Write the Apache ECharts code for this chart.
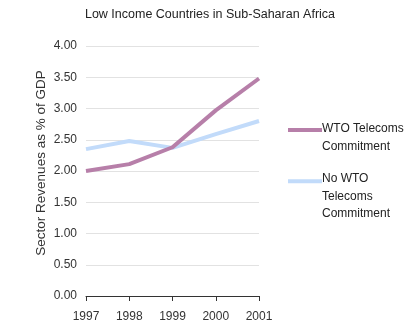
<!DOCTYPE html>
<html>
<head>
<meta charset="utf-8">
<script src="https://cdn.jsdelivr.net/npm/echarts@6/dist/echarts.min.js"></script>
<style>
    html, body { margin: 0; padding: 0; background: #fff; }
    #chart { width: 420px; height: 330px; }
</style>
</head>
<body>
<div id="chart"></div>
<script>
var years = ['1997', '1998', '1999', '2000', '2001'];
var wtoValues = [2.00, 2.11, 2.38, 2.97, 3.48];
var noWtoValues = [2.35, 2.48, 2.37, 2.59, 2.80];
var wtoName = 'WTO Telecoms Commitment';
var noWtoName = 'No WTO Telecoms Commitment';

var font = '"Liberation Sans", Arial, sans-serif';

// icon with bar at top so it lines up with first line of wrapped text
function topBarIcon(h) {
    return 'path://M0,5.5H34V9.5H0Z M0,0H0.01V0.01H0Z M0,' + (h - 0.01) + 'H0.01V' + h + 'H0Z';
}

var option = {
    backgroundColor: '#ffffff',
    title: {
        text: 'Low Income Countries in Sub-Saharan Africa',
        left: 'center',
        top: 3,
        textStyle: { fontFamily: font, fontSize: 12.5, fontWeight: 'normal', color: '#222' }
    },
    legend: [
        {
            data: [wtoName],
            left: 288,
            top: 120,
            padding: 0,
            itemWidth: 34,
            itemHeight: 30,
            itemGap: 0,
            icon: topBarIcon(30),
            formatter: function() { return 'WTO Telecoms\nCommitment'; },
            textStyle: { fontFamily: font, fontSize: 12, color: '#222', lineHeight: 17.5, padding: [0, 0, 0, -5] }
        },
        {
            data: [noWtoName],
            left: 288,
            top: 170,
            padding: 0,
            itemWidth: 34,
            itemHeight: 45,
            itemGap: 0,
            icon: topBarIcon(45),
            formatter: function() { return 'No WTO\nTelecoms\nCommitment'; },
            textStyle: { fontFamily: font, fontSize: 12, color: '#222', lineHeight: 17.5, padding: [0, 0, 0, -5] }
        }
    ],
    grid: { left: 86, right: 161, top: 46, bottom: 34 },
    xAxis: {
        type: 'category',
        data: years,
        boundaryGap: false,
        axisLine: { lineStyle: { color: '#333', width: 1 } },
        axisTick: { alignWithLabel: true, length: 5, lineStyle: { color: '#333' } },
        axisLabel: { fontFamily: font, fontSize: 12, color: '#333', margin: 15 }
    },
    yAxis: {
        type: 'value',
        min: 0,
        max: 4,
        interval: 0.5,
        name: 'Sector Revenues as % of GDP',
        nameLocation: 'middle',
        nameGap: 38,
        nameTextStyle: { fontFamily: font, fontSize: 13.5, color: '#333', padding: [0, 0, 0, 16] },
        axisLine: { show: false },
        axisTick: { show: false },
        axisLabel: {
            fontFamily: font, fontSize: 12, color: '#333', margin: 9,
            formatter: function(v) { return v.toFixed(2); }
        },
        splitLine: { lineStyle: { color: '#e2e2e2', width: 1 } }
    },
    series: [
        {
            name: noWtoName,
            type: 'line',
            data: noWtoValues,
            showSymbol: false,
            color: '#c2dbfa',
            lineStyle: { width: 4, color: '#c2dbfa' }
        },
        {
            name: wtoName,
            type: 'line',
            data: wtoValues,
            showSymbol: false,
            color: '#b77fa9',
            lineStyle: { width: 4, color: '#b77fa9' }
        }
    ],
    animation: false
};

echarts.init(document.getElementById('chart')).setOption(option);
</script>
</body>
</html>
